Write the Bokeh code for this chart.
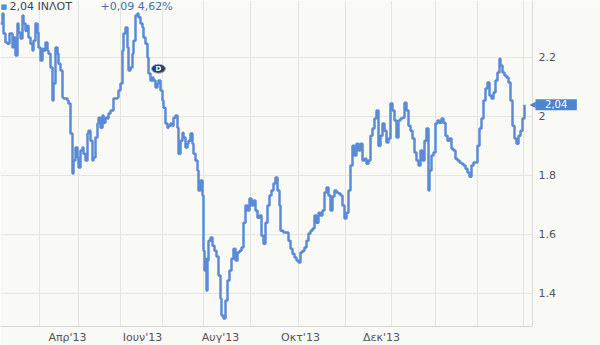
from bokeh.plotting import figure
from bokeh.models import Range1d, FixedTicker, CustomJSTickFormatter, Label, BoxAnnotation
from bokeh.core.properties import value
from bokeh.embed import file_html
from bokeh.resources import INLINE

# ---- data (session index, closing price) ----
day = [0, 2, 3, 5, 7, 9, 12, 13, 15, 17, 18, 20, 22, 23, 25, 27, 28, 30, 32, 33, 35, 37, 38, 40,
       42, 43, 45, 47, 48, 50, 52, 53, 55, 57, 58, 60, 62, 63, 67, 68, 70, 72, 73, 75, 77, 78, 80,
       82, 83, 85, 87, 88, 90, 92, 93, 95, 97, 98, 100, 102, 103, 105, 107, 108, 110, 113, 117,
       118, 120, 122, 123, 125, 127, 128, 130, 132, 133, 135, 137, 138, 140, 142, 143, 145, 147,
       148, 150, 152, 153, 155, 157, 158, 160, 162, 163, 165, 167, 168, 170, 172, 173, 175, 177,
       178, 180, 182, 183, 185, 187, 188, 190, 192, 193, 195, 197, 198, 200,
       202, 203, 204, 205, 206, 207, 208, 210, 212, 214, 216, 218, 220, 221, 223, 225, 227, 229,
       231, 233, 235, 237, 239, 241, 243, 245, 247, 249, 251, 253, 255, 257, 259, 261, 263, 265,
       267, 269, 271, 273, 275, 277, 279, 280, 283, 286, 288, 290, 292, 294, 296, 298, 300, 302,
       304, 306, 308, 310, 312, 314, 316, 318, 320, 322, 324, 326, 328, 330, 332, 334, 336, 338,
       340, 342, 344, 346, 348, 350, 352, 354, 356, 358, 360, 362, 364, 366, 368, 370, 372, 374,
       376, 378, 380, 382, 384, 386, 388, 390, 392, 394, 396, 398, 400, 402, 404, 406, 408, 410,
       412, 414, 416, 418, 420, 422, 424, 426, 428, 429, 431, 433, 435, 437, 439, 441, 443, 445,
       447, 449, 451, 453, 455, 457, 459, 461, 463, 465, 467, 469, 471, 473, 475, 477, 479, 481,
       483, 485, 487, 489, 491, 493, 495, 497, 499, 500, 502, 504, 506, 508, 510, 512, 514, 516,
       518, 520, 522, 524]
price = [2.315, 2.349, 2.281, 2.251, 2.247, 2.281, 2.234, 2.268, 2.207, 2.315, 2.285, 2.264,
         2.342, 2.315, 2.291, 2.308, 2.268, 2.247, 2.224, 2.257, 2.315, 2.285, 2.234, 2.190,
         2.230, 2.224, 2.251, 2.224, 2.213, 2.166, 2.054, 2.112, 2.234, 2.213, 2.179, 2.156,
         2.064, 2.061, 2.054, 2.044, 1.942, 1.807, 1.851, 1.895, 1.861, 1.827, 1.885, 1.895,
         1.874, 1.851, 1.942, 1.952, 1.918, 1.851, 1.861, 1.929, 1.976, 1.996, 1.962, 2.003,
         1.979, 1.996, 1.993, 2.010, 2.020, 2.061, 2.064, 2.088, 2.112, 2.224, 2.281, 2.302,
         2.234, 2.156, 2.166, 2.213, 2.257, 2.342, 2.349, 2.336, 2.315, 2.302, 2.268, 2.247,
         2.200, 2.146, 2.122, 2.132, 2.122, 2.098, 2.112, 2.122, 2.088, 2.054, 2.030, 1.976,
         1.962, 1.969, 1.976, 1.969, 1.996, 2.003, 1.962, 1.874, 1.918, 1.945, 1.929, 1.895,
         1.908, 1.918, 1.942, 1.908, 1.874, 1.851, 1.817, 1.749, 1.783,
         1.732, 1.545, 1.478, 1.518, 1.410, 1.512, 1.579, 1.590, 1.562, 1.545, 1.525, 1.461,
         1.383, 1.325, 1.315, 1.376, 1.444, 1.478, 1.518, 1.552, 1.512, 1.539, 1.545, 1.556,
         1.640, 1.698, 1.681, 1.722, 1.698, 1.715, 1.681, 1.657, 1.664, 1.596, 1.569, 1.640,
         1.698, 1.732, 1.749, 1.773, 1.793, 1.749, 1.698, 1.613, 1.607, 1.607, 1.579, 1.552,
         1.535, 1.522, 1.512, 1.505, 1.539, 1.545, 1.556, 1.579, 1.603, 1.613, 1.620, 1.664,
         1.640, 1.674, 1.664, 1.681, 1.742, 1.759, 1.732, 1.681, 1.729, 1.749, 1.742, 1.739,
         1.732, 1.698, 1.654, 1.674, 1.749, 1.834, 1.901, 1.868, 1.908, 1.885, 1.908, 1.851,
         1.857, 1.840, 1.851, 1.935, 1.959, 1.993, 2.020, 1.901, 1.935, 1.976, 1.952, 1.912,
         1.925, 2.044, 2.020, 1.986, 1.929, 1.986, 1.993, 1.996, 2.047, 2.020, 1.969, 1.952,
         1.925, 1.878, 1.851, 1.834, 1.885, 1.851, 1.918, 1.959, 1.749, 1.817, 1.868, 1.878,
         1.976, 1.986, 1.979, 1.993, 1.979, 1.935, 1.918, 1.925, 1.891, 1.885, 1.857, 1.851,
         1.844, 1.840, 1.834, 1.823, 1.810, 1.796, 1.834, 1.844, 1.844, 1.901, 1.959, 1.993,
         2.054, 2.095, 2.115, 2.071, 2.061, 2.081, 2.122, 2.149, 2.196, 2.173, 2.149, 2.139,
         2.132, 2.115, 2.054, 1.969, 1.925, 1.908, 1.935, 1.952, 1.993, 2.040]

# dividend event marker
event_day = [158]
event_price = [2.162]
event_text = ["D"]

# axis ticks / labels
month_pos = [67, 142, 220, 300, 381]
month_labels = ["Απρ'13", "Ιουν'13", "Αυγ'13", "Οκτ'13", "Δεκ'13"]
grid_days = [39, 78, 120, 162, 203, 250, 298, 345, 391, 435, 477, 523]
price_ticks = [1.4, 1.6, 1.8, 2.0, 2.2]

last_price_text = "2,04"
header_name = "2,04 ΙΝΛΟΤ"
header_change = "+0,09 4,62%"

LINE = "#5b8bd6"
TAG = "#4f82cf"
BG = "#f9f9f6"
FONT = "DejaVu Sans"

# plotting window: chart area ends at x=532 / price 1.2881 ; the rest holds the labels
X_END = 532
Y_BOTTOM = 1.2881

p = figure(width=600, height=345, x_range=Range1d(0, 600), y_range=Range1d(1.2237, 2.3932),
           output_backend="svg", toolbar_location=None, y_axis_location="right",
           min_border_left=0, min_border_top=0, min_border_right=0, min_border_bottom=0)
p.background_fill_color = BG
p.border_fill_color = BG
p.outline_line_color = None

p.xgrid.ticker = FixedTicker(ticks=grid_days)
p.ygrid.ticker = FixedTicker(ticks=price_ticks)
p.grid.grid_line_color = "#e5e5df"
p.grid.grid_line_width = 1

# keep grid lines inside the chart area
p.add_layout(BoxAnnotation(left=X_END, fill_color=BG, fill_alpha=1, line_color=None, level="underlay"))
p.add_layout(BoxAnnotation(top=Y_BOTTOM, fill_color=BG, fill_alpha=1, line_color=None, level="underlay"))

p.step(day, price, mode="after", line_color=LINE, line_width=2.5)

p.ellipse(event_day, event_price, width=14, height=9, width_units="screen", height_units="screen",
          fill_color="#2b3d5c", line_color="#9fb3d6", line_width=1)
p.text(event_day, event_price, text=event_text, text_color="white", text_font=value(FONT),
       text_font_size="7px", text_font_style="bold", text_align="center", text_baseline="middle")

# axes
ya = p.yaxis[0]
ya.fixed_location = X_END
ya.bounds = (Y_BOTTOM, 2.3932)
ya.ticker = FixedTicker(ticks=price_ticks)
ya.formatter = CustomJSTickFormatter(code="return String(+tick.toFixed(1));")
ya.major_tick_out = 0
ya.major_tick_in = 0
ya.minor_tick_out = 0
ya.minor_tick_in = 0
ya.major_tick_line_color = None
ya.minor_tick_line_color = None
ya.axis_line_color = "#dcdcd6"
ya.major_label_standoff = 6
ya.major_label_text_font = FONT
ya.major_label_text_font_size = "11px"
ya.major_label_text_color = "#555555"

xa = p.xaxis[0]
xa.fixed_location = Y_BOTTOM
xa.bounds = (0, X_END)
xa.ticker = FixedTicker(ticks=month_pos)
xa.formatter = CustomJSTickFormatter(args=dict(pos=month_pos, lab=month_labels),
                                     code="const i = pos.indexOf(tick); return i >= 0 ? lab[i] : '';")
xa.major_tick_out = 0
xa.major_tick_in = 0
xa.minor_tick_out = 0
xa.minor_tick_in = 0
xa.major_tick_line_color = None
xa.minor_tick_line_color = None
xa.axis_line_color = "#d6d6d0"
xa.major_label_standoff = 4
xa.major_label_text_font = FONT
xa.major_label_text_font_size = "11px"
xa.major_label_text_color = "#555555"

# last price tag
p.add_layout(Label(x=529, y=price[-1], x_units="screen", y_units="data", text="◀",
                   text_color=TAG, text_font=FONT, text_font_size="8px",
                   text_baseline="middle"))
nb = "\u00a0\u00a0\u00a0"
p.add_layout(Label(x=535, y=price[-1], x_units="screen", y_units="data",
                   text=nb + last_price_text + nb, text_color="white", text_font=FONT,
                   text_font_size="10px", text_baseline="middle",
                   background_fill_color=TAG))

# header
p.add_layout(Label(x=0, y=339, x_units="screen", y_units="screen", text="■",
                   text_color=LINE, text_font=FONT, text_font_size="7px", text_baseline="middle"))
p.add_layout(Label(x=9, y=339, x_units="screen", y_units="screen", text=header_name,
                   text_color="#3a4658", text_font=FONT, text_font_size="11px",
                   text_baseline="middle"))
p.add_layout(Label(x=100, y=339, x_units="screen", y_units="screen", text=header_change,
                   text_color="#4a6ea6", text_font=FONT, text_font_size="11px",
                   text_baseline="middle"))

open("out.html", "w").write(file_html(p, INLINE))
